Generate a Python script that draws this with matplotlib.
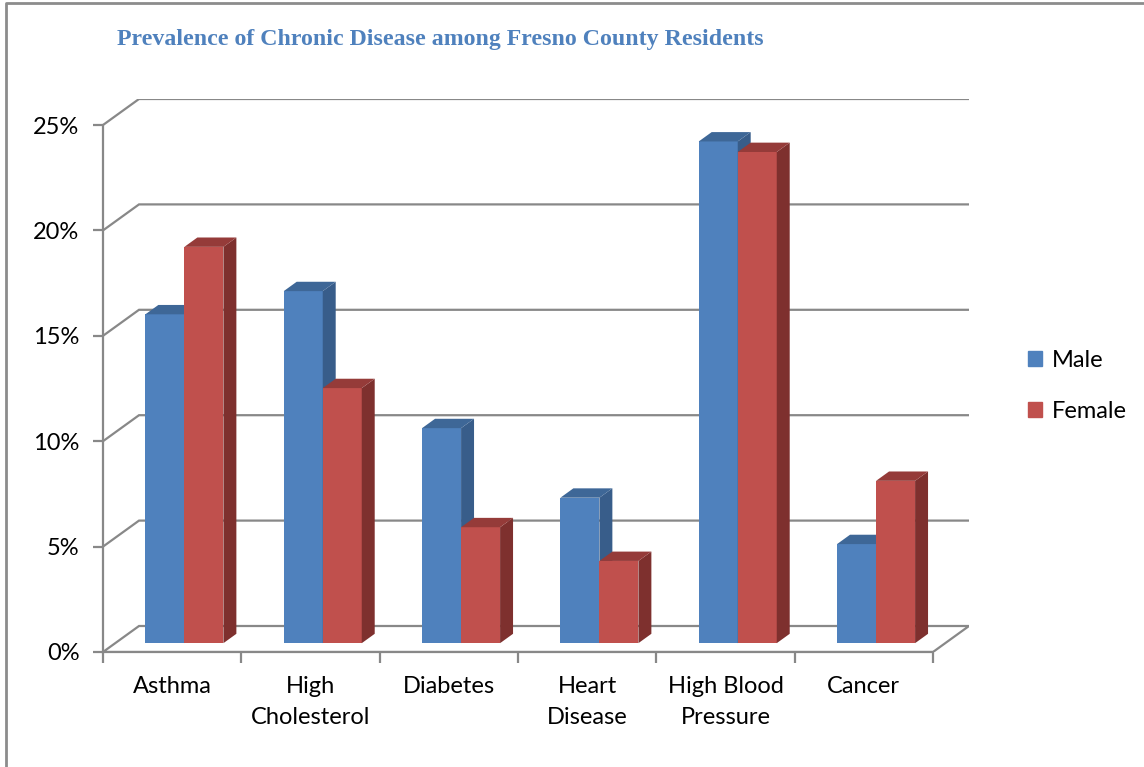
import matplotlib
matplotlib.use("Agg")
import matplotlib.pyplot as plt
from matplotlib.patches import Rectangle
from matplotlib.lines import Line2D

categories = ["Asthma", "High\nCholesterol", "Diabetes", "Heart\nDisease", "High Blood\nPressure", "Cancer"]
male = [15.6, 16.7, 10.2, 6.9, 23.8, 4.7]
female = [18.8, 12.1, 5.5, 3.9, 23.3, 7.7]
yticks = [0, 5, 10, 15, 20, 25]
ytick_labels = ["0%", "5%", "10%", "15%", "20%", "25%"]
title = "Prevalence of Chronic Disease among Fresno County Residents"

male_col = dict(front="#4F81BD", side="#385D8A", top="#3E6797")
female_col = dict(front="#C0504D", side="#7E302E", top="#953B39")
grid_col = "#888888"
FS = 17

fig = plt.figure(figsize=(11.44, 7.67), dpi=100)
W, H = 1144, 767
ax = fig.add_axes([103 / W, 1 - 652 / H, (969 - 103) / W, (652 - 99) / H])

n = len(categories)
px_per_cat = (933 - 103) / n
px_per_pct = (652 - 125) / 25.0
DX = 36 / px_per_cat      # depth offset in category units
DY = 26 / px_per_pct      # depth offset in percent units

ax.set_xlim(0, n + DX)
ax.set_ylim(0, 25 + DY)

# back wall gridlines
for y in yticks:
    if y == 0:
        continue
    ax.plot([0, DX, n + DX], [y, y + DY, y + DY], color=grid_col, lw=1.6,
            solid_joinstyle="miter", zorder=1)
# floor
ax.plot([0, DX, n + DX, n, 0], [0, DY, DY, 0, 0], color=grid_col, lw=1.6,
        solid_joinstyle="miter", zorder=1)

# bars
d0, d1 = 0.34, 0.70
bw = 0.282


def draw_bar(x0, v, cols, z):
    x1 = x0 + bw
    ox, oy = d0 * DX, d0 * DY
    ex, ey = (d1 - d0) * DX, (d1 - d0) * DY
    fx0, fx1 = x0 + ox, x1 + ox
    fy0, fy1 = oy, v + oy
    ax.fill([fx0, fx1, fx1, fx0], [fy0, fy0, fy1, fy1], color=cols["front"], lw=0, zorder=z)
    ax.fill([fx1, fx1 + ex, fx1 + ex, fx1], [fy0, fy0 + ey, fy1 + ey, fy1],
            color=cols["side"], lw=0, zorder=z)
    ax.fill([fx0, fx1, fx1 + ex, fx0 + ex], [fy1, fy1, fy1 + ey, fy1 + ey],
            color=cols["top"], lw=0, zorder=z)


z = 3
for i in range(n):
    c = i + 0.5
    draw_bar(c - bw, male[i], male_col, z)
    z += 1
    draw_bar(c, female[i], female_col, z)
    z += 1

# axes styling
for s in ["top", "right"]:
    ax.spines[s].set_visible(False)
ax.spines["left"].set_bounds(0, 25)
ax.spines["bottom"].set_bounds(0, n)
for s in ["left", "bottom"]:
    ax.spines[s].set_color(grid_col)
    ax.spines[s].set_linewidth(1.6)
    ax.spines[s].set_zorder(2)

ax.set_yticks(yticks)
ax.set_yticklabels(ytick_labels, family="Lato", fontsize=FS, color="black")
ax.tick_params(axis="y", length=7, width=1.6, color=grid_col, pad=10)

ax.set_xticks([i for i in range(n + 1)], minor=True)
ax.set_xticks([i + 0.5 for i in range(n)])
ax.set_xticklabels(categories, family="Lato", fontsize=FS, color="black", linespacing=1.6)
ax.tick_params(axis="x", which="major", length=0, pad=17)
ax.tick_params(axis="x", which="minor", length=8, width=1.6, color=grid_col)

# title
fig.text(117 / W, 1 - 40 / H, title, family="Liberation Serif", fontweight="bold",
         fontsize=17.2, color="#4F81BD", ha="left", va="center")

# legend
handles = [Rectangle((0, 0), 1, 1, color=male_col["front"]),
           Rectangle((0, 0), 1, 1, color=female_col["front"])]
leg = fig.legend(handles, ["Male", "Female"], loc="center left",
                 bbox_to_anchor=(1007 / W, 1 - 386 / H), frameon=False,
                 prop=dict(family="Lato", size=FS), handlelength=0.6, handleheight=0.6,
                 handletextpad=0.4, labelspacing=1.25)

# figure border
fig.add_artist(Line2D([6 / W, 6 / W, 1.0], [0.0, 1 - 3 / H, 1 - 3 / H],
                      transform=fig.transFigure, color="#8C8C8C", lw=2))

fig.savefig("out.png", dpi=100)
